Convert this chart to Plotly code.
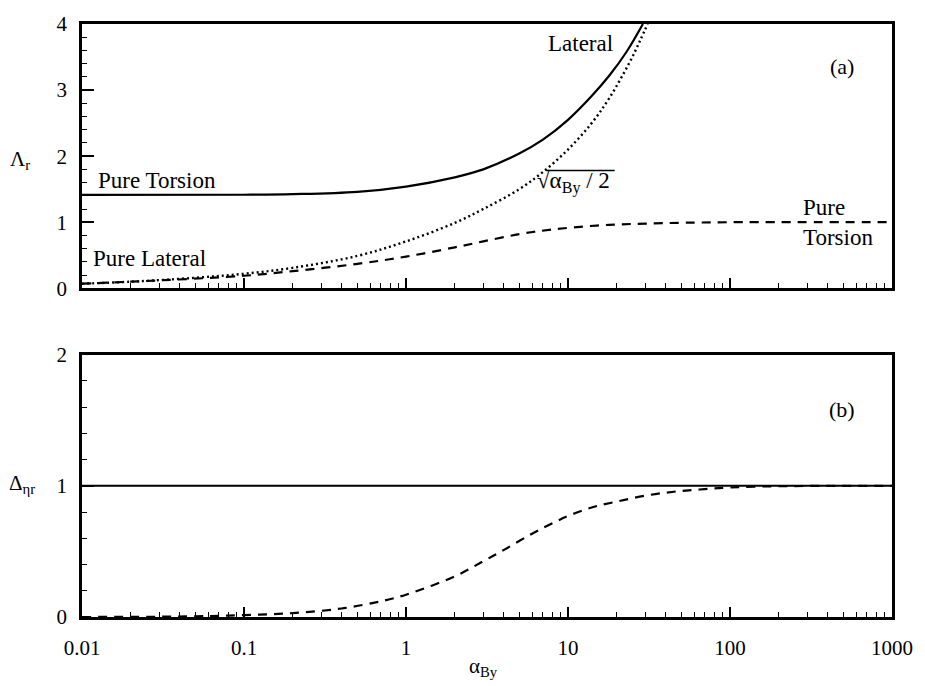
import plotly.graph_objects as go
from plotly.subplots import make_subplots

# ---- panel (a): frequency ratio Lambda_r versus alpha_By ----
alpha_lat = [0.01, 0.1, 0.2, 0.5, 1.0, 2.0, 3.0, 5.0, 7.0, 10.0, 14.0, 18.0, 23.0, 29.0]
lam_lateral = [1.414, 1.416, 1.425, 1.46, 1.54, 1.68, 1.80, 2.04, 2.25, 2.55, 2.91, 3.22, 3.58, 4.00]

alpha_sq = [0.01, 0.02, 0.05, 0.1, 0.2, 0.5, 1.0, 2.0, 3.0, 5.0, 7.0, 10.0, 14.0, 18.0, 24.0, 28.0, 31.0]
lam_sqrt = [0.07, 0.10, 0.16, 0.22, 0.31, 0.49, 0.71, 0.99, 1.20, 1.50, 1.76, 2.10, 2.50, 2.88, 3.42, 3.76, 4.00]

alpha_tor = [0.01, 0.03, 0.1, 0.2, 0.5, 1.0, 2.0, 3.0, 5.0, 8.0, 15.0, 30.0, 100.0, 1000.0]
lam_torsion = [0.07, 0.12, 0.19, 0.26, 0.37, 0.48, 0.62, 0.71, 0.82, 0.89, 0.95, 0.98, 1.00, 1.00]

# ---- panel (b): Delta_eta_r versus alpha_By ----
alpha_ref = [0.01, 1000.0]
delta_ref = [1.0, 1.0]

alpha_d = [0.01, 0.05, 0.1, 0.2, 0.4, 0.7, 1.0, 2.0, 3.0, 4.0, 6.0, 8.5, 10.0,
           14.0, 20.0, 30.0, 45.0, 65.0, 100.0, 200.0, 1000.0]
delta_d = [0.0, 0.005, 0.015, 0.03, 0.065, 0.12, 0.17, 0.31, 0.425, 0.51, 0.635, 0.73, 0.77,
           0.835, 0.88, 0.925, 0.955, 0.972, 0.987, 0.997, 1.0]

x_tickvals = [0.01, 0.1, 1, 10, 100, 1000]
x_ticktext = ["0.01", "0.1", "1", "10", "100", "1000"]

FONT = "Liberation Serif, Times New Roman, serif"
INK = "black"

# plot area in pixels: x 82..897, panel (a) y 18..285, panel (b) y 352..617
W, H = 925, 686
L, R, T, B = 82, 28, 18, 69
PW, PH = W - L - R, H - T - B


def px_x(px):
    return (px - L) / PW


def px_y(py):
    return (H - B - py) / PH


fig = make_subplots(rows=2, cols=1, shared_xaxes=False, vertical_spacing=0.0)

dash_style = "9px,7px"
fig.add_trace(go.Scatter(x=alpha_lat, y=lam_lateral, mode="lines",
                         line=dict(color=INK, width=2.2, shape="spline", smoothing=1.0),
                         showlegend=False), row=1, col=1)
fig.add_trace(go.Scatter(x=alpha_sq, y=lam_sqrt, mode="lines",
                         line=dict(color=INK, width=2.4, dash="2px,3px", shape="spline", smoothing=1.0),
                         showlegend=False), row=1, col=1)
fig.add_trace(go.Scatter(x=alpha_tor, y=lam_torsion, mode="lines",
                         line=dict(color=INK, width=2.2, dash=dash_style, shape="spline", smoothing=1.0),
                         showlegend=False), row=1, col=1)

fig.add_trace(go.Scatter(x=alpha_ref, y=delta_ref, mode="lines",
                         line=dict(color=INK, width=2.0), showlegend=False), row=2, col=1)
fig.add_trace(go.Scatter(x=alpha_d, y=delta_d, mode="lines",
                         line=dict(color=INK, width=2.2, dash=dash_style, shape="spline", smoothing=1.0),
                         showlegend=False), row=2, col=1)

fig.update_xaxes(
    type="log", range=[-2, 3], showgrid=False, zeroline=False,
    showline=True, linecolor=INK, linewidth=2.8, mirror=True,
    ticks="inside", ticklen=10, tickwidth=1.5, tickcolor=INK,
    tickvals=x_tickvals, ticktext=x_ticktext,
    minor=dict(ticks="inside", ticklen=5, tickwidth=1.2, tickcolor=INK,
               dtick="D1", showgrid=False),
    tickfont=dict(family=FONT, size=21, color=INK),
    ticklabelstandoff=10,
)
fig.update_xaxes(showticklabels=False, row=1, col=1)

fig.update_yaxes(
    showgrid=False, zeroline=False,
    showline=True, linecolor=INK, linewidth=2.8, mirror=True,
    ticks="inside", ticklen=12, tickwidth=1.5, tickcolor=INK, dtick=1,
    minor=dict(ticks="inside", ticklen=5, tickwidth=1.2, tickcolor=INK,
               dtick=0.2, showgrid=False),
    tickfont=dict(family=FONT, size=21, color=INK),
    ticklabelstandoff=8,
)
fig.update_yaxes(range=[0, 4], domain=[px_y(285), 1.0], row=1, col=1)
fig.update_yaxes(range=[0, 2], domain=[0.0, px_y(352)], row=2, col=1)

text_font = dict(family=FONT, size=23, color=INK)


def note(text, x, y, xref, yref, size=23, **kw):
    fig.add_annotation(text=text, x=x, y=y, xref=xref, yref=yref,
                       showarrow=False, font=dict(text_font, size=size), **kw)


# panel (a) labels (x given in log10 units)
note("Pure Torsion", -1.54, 1.63, "x", "y")
note("Pure Lateral", -1.583, 0.45, "x", "y")
note("Lateral", 1.08, 3.7, "x", "y")
note("(a)", 2.69, 3.35, "x", "y", size=22)
note("Pure<br>Torsion", 2.436, 1.0, "x", "y", xanchor="left", align="left")

# square-root label with its vinculum
note("√α<sub>By</sub> / 2", px_x(538), px_y(178), "paper", "paper",
     xanchor="left", yanchor="middle")
fig.add_shape(type="line", xref="paper", yref="paper",
              x0=px_x(549), x1=px_x(618), y0=px_y(166), y1=px_y(166),
              line=dict(color=INK, width=1.6))

# panel (b) label
note("(b)", 2.69, 1.58, "x2", "y2", size=22)

# axis titles
note("Λ<sub>r</sub>", px_x(20), px_y(155), "paper", "paper", size=21,
     xanchor="center", yanchor="middle")
note("Δ<sub>ηr</sub>", px_x(22), px_y(483), "paper", "paper", size=21,
     xanchor="center", yanchor="middle")
note("α<sub>By</sub>", px_x(486), px_y(668), "paper", "paper", size=21,
     xanchor="center", yanchor="middle")

fig.update_layout(
    width=W, height=H,
    margin=dict(l=L, r=R, t=T, b=B),
    paper_bgcolor="white", plot_bgcolor="white",
    font=dict(family=FONT, color=INK),
)

fig.write_html("out.html")
